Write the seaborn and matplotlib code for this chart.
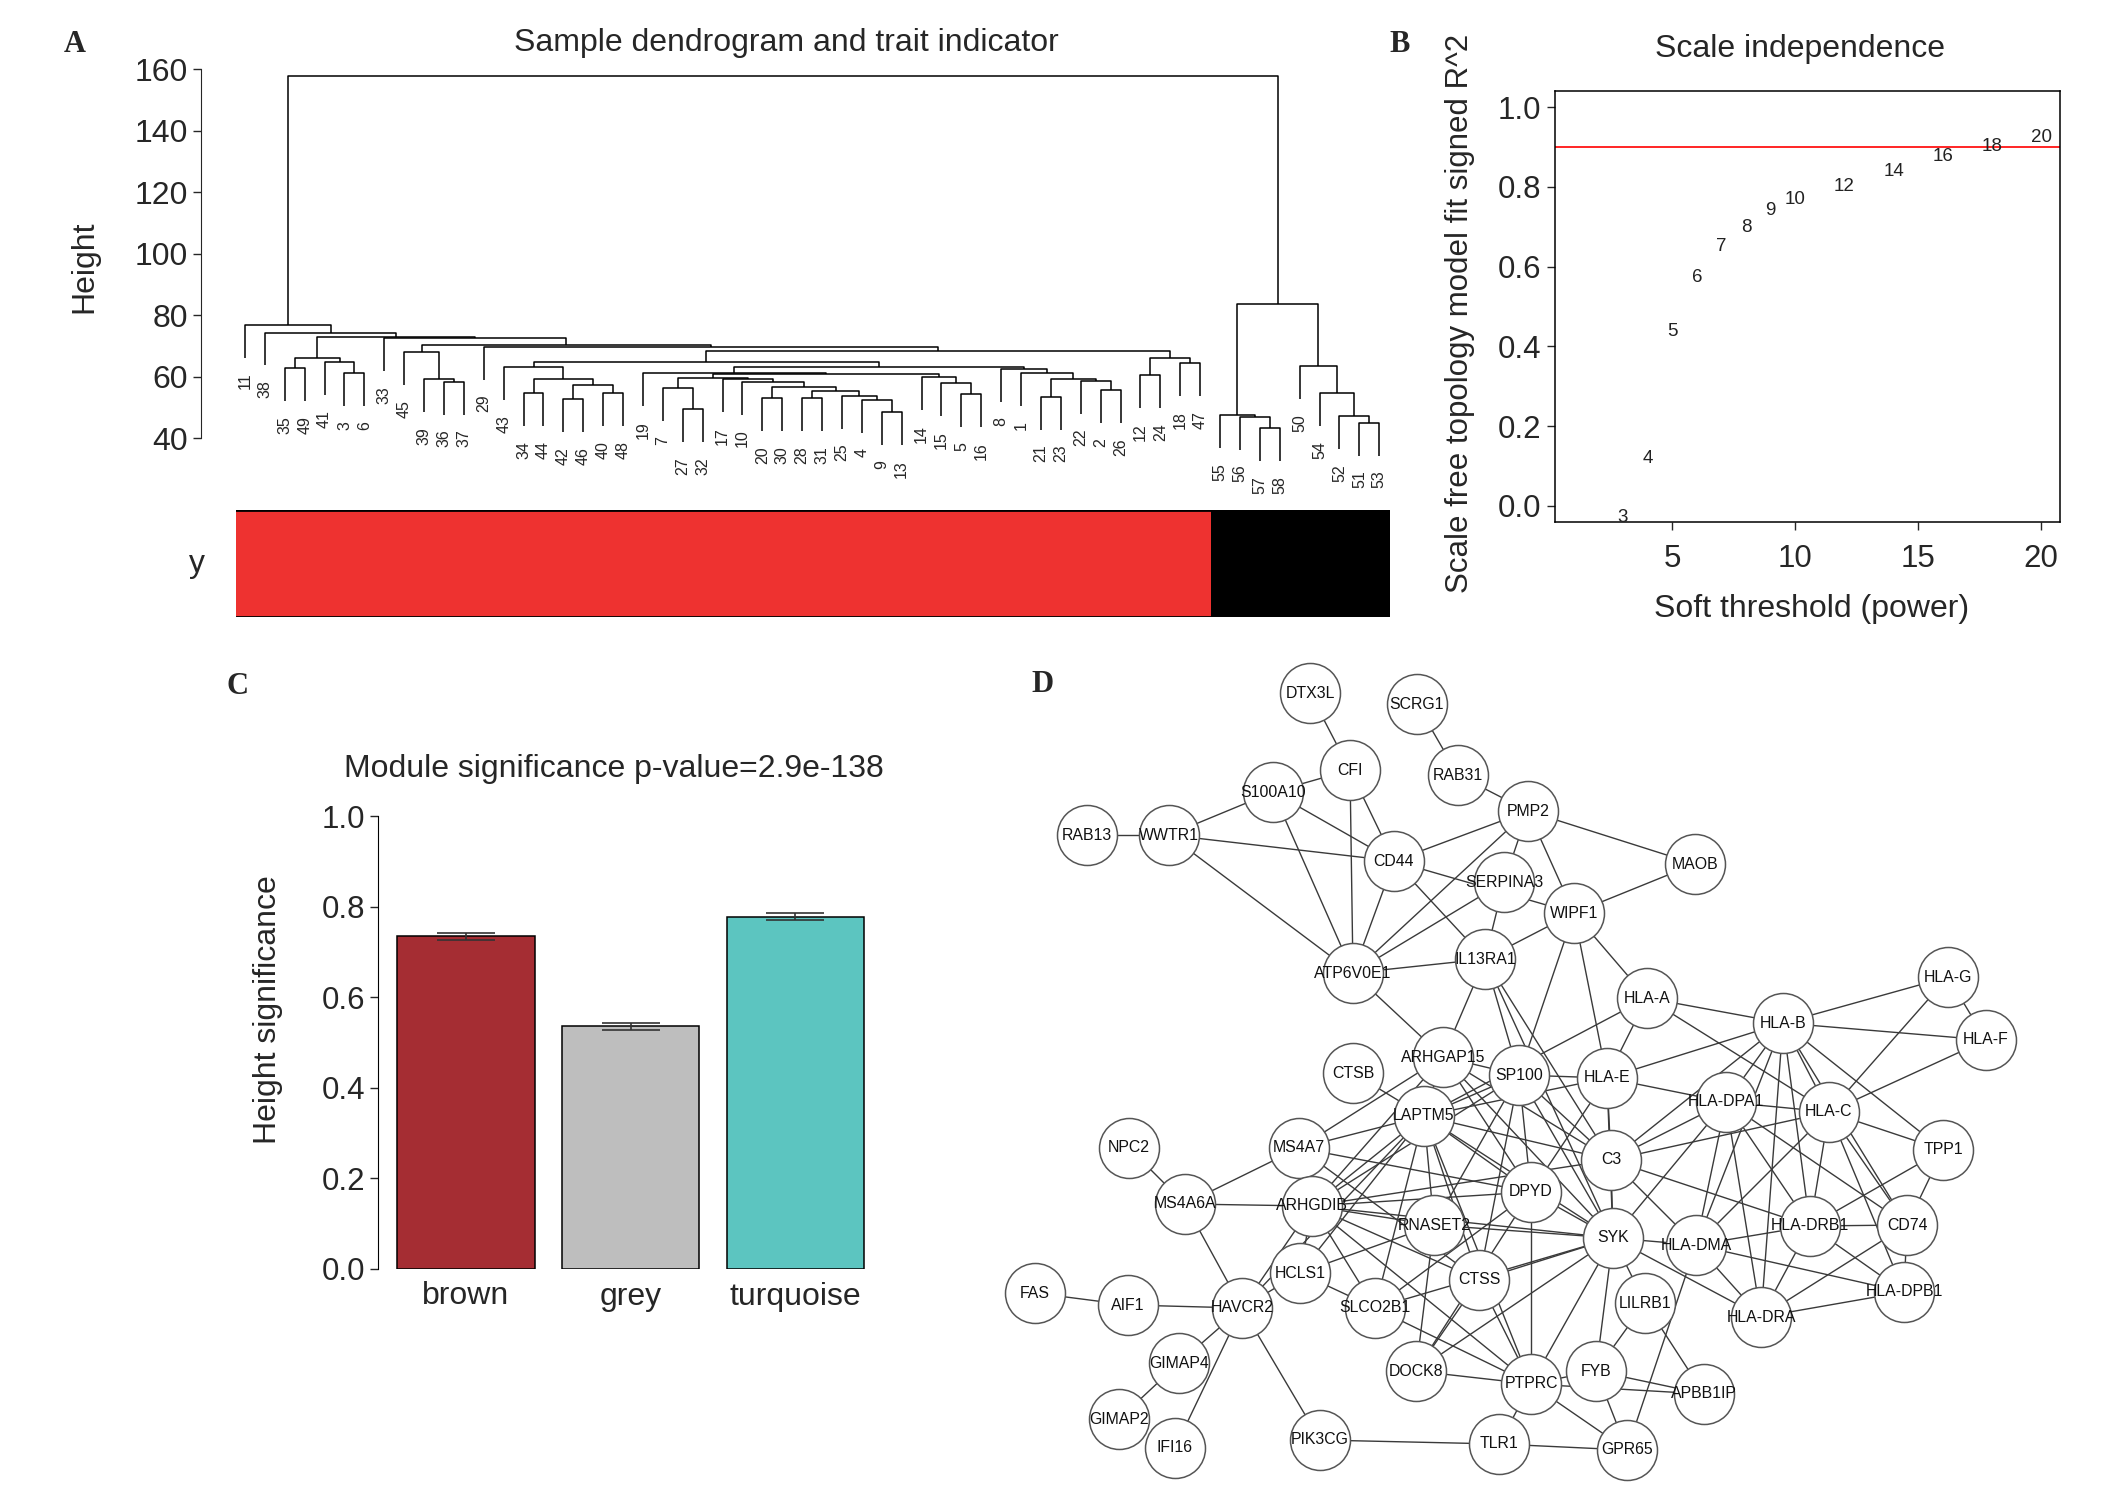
import matplotlib
matplotlib.use('Agg')
import matplotlib.pyplot as plt
from matplotlib.colors import ListedColormap
from matplotlib.collections import LineCollection
import seaborn as sns
import numpy as np
import pandas as pd

sns.set_style('white')
plt.rcParams['font.family'] = ['Liberation Sans', 'DejaVu Sans']

W, H = 2126, 1495
fig = plt.figure(figsize=(W / 100, H / 100), dpi=100)


def px_axes(x0, y0, x1, y1):
    # axes placed by pixel box (top-left origin)
    return fig.add_axes([x0 / W, 1 - y1 / H, (x1 - x0) / W, (y1 - y0) / H])


def px_text(x, y, s, **kw):
    fig.text(x / W, 1 - y / H, s, ha='center', va='center', **kw)


# ---------------- A: sample dendrogram (hclust style merge table) ----------------
# negative = sample id, positive = earlier merge row (1-based)
merge_a = [-57, -56, -55, -51, -52, -54, -50, 3,
           -35, -3, -41, 9, -36, -39, -45, -34, -42, -40, 17, 16, -43,
           -27, -7, -20, -28, -9, -4, -25, 25, 24, -10, -17, 23,
           -5, -15, -14, 33, -19, -21, -2, -22, 39, -1, -8, 38, 21,
           -12, -18, 47, 46, -29, 15, -33, 12, -38, -11, 56]
merge_b = [-58, 1, 2, -53, 4, 5, 6, 7,
           -49, -6, 10, 11, -37, 13, 14, -44, -46, -48, 18, 19, 20,
           -32, 22, -30, -31, -13, 26, 27, 28, 29, 30, 31, 32,
           -16, 34, 35, 36, 37, -23, -26, 40, 41, 42, 43, 44, 45,
           -24, -47, 48, 49, 50, 51, 52, 53, 54, 55, 8]
merge_h = [43.3, 46.9, 47.5, 45.0, 47.1, 54.7, 63.4, 83.6,
           62.7, 61.0, 64.8, 65.9, 58.3, 59.1, 67.9, 54.5, 52.6, 54.5, 57.2, 59.2, 63.0,
           49.3, 56.2, 53.0, 53.0, 48.5, 52.4, 53.7, 55.4, 56.7, 58.3, 59.1, 59.4,
           54.3, 57.8, 59.7, 60.7, 61.2, 53.4, 55.6, 58.6, 59.1, 61.0, 62.3, 63.2, 64.7,
           60.5, 64.3, 65.9, 68.4, 69.7, 70.3, 72.4, 73.0, 74.3, 76.8, 157.8]
# trait per sample id 1..58 (0 = red, 1 = black)
trait_y = [0, 0, 0, 0, 0, 0, 0, 0, 0, 0, 0, 0, 0, 0, 0, 0, 0, 0, 0, 0,
           0, 0, 0, 0, 0, 0, 0, 0, 0, 0, 0, 0, 0, 0, 0, 0, 0, 0, 0, 0,
           0, 0, 0, 0, 0, 0, 0, 0, 0, 1, 1, 1, 1, 1, 1, 1, 1, 1]
hang = 10.7


def leaves(node):
    if node < 0:
        return [-node]
    return leaves(merge_a[node - 1]) + leaves(merge_b[node - 1])


leaf_order = leaves(len(merge_h))
leaf_pos = {s: i for i, s in enumerate(leaf_order)}

ax_a = px_axes(200.7, 69.2, 1395, 438)
node_xy = {}
segs = []
for k in range(1, len(merge_h) + 1):
    h = merge_h[k - 1]
    ends = []
    for child in (merge_a[k - 1], merge_b[k - 1]):
        if child < 0:
            x = leaf_pos[-child]
            y = h - hang
            ax_a.text(x, y - 4.9, str(-child), rotation=90, ha='center', va='top',
                      fontsize=11.5, clip_on=False)
        else:
            x, y = node_xy[child]
        ends.append((x, y))
    (xa, ya), (xb, yb) = ends
    segs.append([(xa, ya), (xa, h), (xb, h), (xb, yb)])
    node_xy[k] = ((xa + xb) / 2, h)
ax_a.add_collection(LineCollection(segs, colors='black', linewidths=1.1, clip_on=False))
ax_a.set_xlim(-2.226, 57.79)
ax_a.set_ylim(40, 160)
ax_a.set_yticks([40, 60, 80, 100, 120, 140, 160])
ax_a.set_xticks([])
sns.despine(ax=ax_a, bottom=True)
ax_a.spines['left'].set_bounds(40, 160)
ax_a.tick_params(axis='y', direction='out', length=6, width=1, pad=3, labelsize=23, left=True)
ax_a.set_facecolor('none')

px_text(786, 43, 'Sample dendrogram and trait indicator', fontsize=23)
px_text(84, 267, 'Height', fontsize=23, rotation=90)

# trait colour bar in dendrogram order
ax_bar = px_axes(236, 510, 1390, 617)
bar_df = pd.DataFrame([[trait_y[s - 1] for s in leaf_order]], columns=leaf_order, index=['y'])
sns.heatmap(bar_df, ax=ax_bar, cmap=ListedColormap(['#EE3230', 'black']), cbar=False,
            xticklabels=False, yticklabels=False, vmin=0, vmax=1)
ax_bar.axhline(0, color='black', lw=2)
ax_bar.axhline(1, color='black', lw=2)
px_text(197, 564, 'y', fontsize=23)

# ---------------- B: scale independence ----------------
powers = [3, 4, 5, 6, 7, 8, 9, 10, 12, 14, 16, 18, 20]
fit_r2 = [-0.03, 0.118, 0.437, 0.573, 0.65, 0.698, 0.742, 0.769, 0.80, 0.838, 0.877, 0.902, 0.925]
cutoff = 0.90

ax_b = px_axes(1555, 91, 2060, 522)
for p, v in zip(powers, fit_r2):
    ax_b.text(p, v, str(p), ha='center', va='center', fontsize=13.5, color='#222222', clip_on=True)
ax_b.axhline(cutoff, color='red', lw=1.2)
ax_b.set_xlim(0.24, 20.76)
ax_b.set_ylim(-0.041, 1.041)
ax_b.set_xticks([5, 10, 15, 20])
ax_b.set_yticks([0, 0.2, 0.4, 0.6, 0.8, 1.0])
ax_b.set_yticklabels(['0.0', '0.2', '0.4', '0.6', '0.8', '1.0'])
for s in ax_b.spines.values():
    s.set_linewidth(1.1)
    s.set_color('black')
ax_b.tick_params(direction='out', length=6, width=1, labelsize=22.5, bottom=True, left=True)
ax_b.tick_params(axis='x', pad=10)
ax_b.tick_params(axis='y', pad=4)
px_text(1800, 49, 'Scale independence', fontsize=23)
px_text(1812, 609, 'Soft threshold (power)', fontsize=23)
px_text(1460, 313, 'Scale free topology model fit signed R^2', fontsize=22.5, rotation=90)

# ---------------- C: module significance ----------------
modules = ['brown', 'grey', 'turquoise']
gene_sig = [0.734, 0.536, 0.778]
gene_sig_err = [0.008, 0.008, 0.007]
module_colors = ['#A52D33', '#BEBEBE', '#5CC5C0']

ax_c = px_axes(378, 816, 870, 1269)
sns.barplot(x=modules, y=gene_sig, hue=modules, palette=module_colors, legend=False,
            saturation=1, width=0.835, edgecolor='black', linewidth=1.1, errorbar=None, ax=ax_c)
ax_c.errorbar(range(len(modules)), gene_sig, yerr=gene_sig_err, fmt='none',
              ecolor='#333333', elinewidth=1.2, capsize=21, capthick=1.2)
ax_c.set_xlim(-0.534, 2.453)
ax_c.set_ylim(0, 1)
ax_c.set_yticks([0, 0.2, 0.4, 0.6, 0.8, 1.0])
ax_c.set_yticklabels(['0.0', '0.2', '0.4', '0.6', '0.8', '1.0'])
sns.despine(ax=ax_c, bottom=True)
ax_c.spines['left'].set_bounds(0, 1)
ax_c.spines['left'].set_color('black')
ax_c.tick_params(axis='y', direction='out', length=6, width=1, pad=3, labelsize=22.5, left=True)
ax_c.tick_params(axis='x', length=0, pad=9, labelsize=23)
ax_c.set_ylabel('')
px_text(614, 769, 'Module significance p-value=2.9e-138', fontsize=23)
px_text(268, 1010, 'Height significance', fontsize=23, rotation=90)

# ---------------- D: PPI network of hub genes ----------------
node_names = ['DTX3L', 'SCRG1', 'CFI', 'RAB31', 'S100A10', 'PMP2', 'RAB13', 'WWTR1', 'CD44',
              'MAOB', 'SERPINA3', 'WIPF1', 'IL13RA1', 'ATP6V0E1', 'HLA-G', 'HLA-A', 'HLA-B',
              'HLA-F', 'ARHGAP15', 'CTSB', 'SP100', 'HLA-E', 'HLA-DPA1', 'HLA-C', 'LAPTM5',
              'NPC2', 'MS4A7', 'TPP1', 'C3', 'DPYD', 'MS4A6A', 'ARHGDIB', 'RNASET2', 'CD74',
              'HLA-DRB1', 'SYK', 'HLA-DMA', 'HCLS1', 'CTSS', 'HLA-DPB1', 'FAS', 'LILRB1',
              'AIF1', 'HAVCR2', 'SLCO2B1', 'HLA-DRA', 'GIMAP4', 'DOCK8', 'FYB', 'PTPRC',
              'APBB1IP', 'GIMAP2', 'PIK3CG', 'TLR1', 'IFI16', 'GPR65']
node_x = [1310, 1417, 1350, 1458, 1273, 1528, 1087, 1169, 1394,
          1695, 1504, 1574, 1485, 1353, 1948, 1647, 1783,
          1986, 1443, 1353, 1519, 1607, 1726, 1829, 1424,
          1129, 1299, 1943, 1611, 1531, 1185, 1312, 1434, 1907,
          1810, 1613, 1696, 1300, 1479, 1904, 1035, 1645,
          1128, 1242, 1375, 1761, 1179, 1416, 1596, 1531,
          1704, 1119, 1320, 1499, 1175, 1627]
node_y = [693, 704, 770, 775, 792, 811, 835, 835, 861,
          864, 882, 913, 959, 973, 977, 998, 1023,
          1040, 1057, 1073, 1075, 1078, 1102, 1112, 1116,
          1148, 1148, 1150, 1160, 1192, 1204, 1206, 1225, 1225,
          1226, 1238, 1245, 1273, 1280, 1292, 1293, 1303,
          1305, 1308, 1308, 1317, 1363, 1371, 1371, 1384,
          1394, 1419, 1440, 1444, 1448, 1450]
edges = [
    ('DTX3L', 'CFI'), ('SCRG1', 'RAB31'), ('RAB31', 'PMP2'), ('CFI', 'S100A10'), ('CFI', 'CD44'),
    ('CFI', 'ATP6V0E1'), ('S100A10', 'WWTR1'), ('S100A10', 'CD44'), ('S100A10', 'ATP6V0E1'),
    ('RAB13', 'WWTR1'), ('WWTR1', 'CD44'), ('WWTR1', 'ATP6V0E1'), ('CD44', 'PMP2'), ('CD44', 'WIPF1'),
    ('CD44', 'ATP6V0E1'), ('CD44', 'IL13RA1'), ('PMP2', 'MAOB'), ('PMP2', 'WIPF1'), ('PMP2', 'SERPINA3'),
    ('PMP2', 'ATP6V0E1'), ('SERPINA3', 'ATP6V0E1'), ('SERPINA3', 'IL13RA1'), ('WIPF1', 'MAOB'),
    ('WIPF1', 'IL13RA1'), ('WIPF1', 'HLA-A'), ('WIPF1', 'HLA-E'), ('WIPF1', 'SP100'),
    ('ATP6V0E1', 'IL13RA1'), ('ATP6V0E1', 'ARHGAP15'), ('IL13RA1', 'ARHGAP15'), ('IL13RA1', 'SP100'),
    ('IL13RA1', 'C3'), ('IL13RA1', 'SYK'),
    ('HLA-A', 'HLA-B'), ('HLA-A', 'HLA-E'), ('HLA-A', 'LAPTM5'), ('HLA-A', 'HLA-C'),
    ('HLA-B', 'HLA-G'), ('HLA-B', 'HLA-F'), ('HLA-B', 'HLA-E'), ('HLA-B', 'C3'), ('HLA-B', 'HLA-DPA1'),
    ('HLA-B', 'HLA-DMA'), ('HLA-B', 'HLA-DRB1'), ('HLA-B', 'HLA-DRA'), ('HLA-B', 'HLA-C'),
    ('HLA-B', 'TPP1'), ('HLA-B', 'CD74'),
    ('HLA-G', 'HLA-F'), ('HLA-G', 'HLA-C'), ('HLA-F', 'HLA-C'),
    ('HLA-E', 'C3'), ('HLA-E', 'SP100'), ('HLA-E', 'SYK'), ('HLA-E', 'LAPTM5'), ('HLA-E', 'DPYD'),
    ('HLA-E', 'HLA-DPA1'),
    ('HLA-DPA1', 'HLA-C'), ('HLA-DPA1', 'C3'), ('HLA-DPA1', 'SYK'), ('HLA-DPA1', 'HLA-DMA'),
    ('HLA-DPA1', 'HLA-DRA'), ('HLA-DPA1', 'HLA-DRB1'), ('HLA-DPA1', 'CD74'),
    ('HLA-C', 'C3'), ('HLA-C', 'HLA-DMA'), ('HLA-C', 'HLA-DRB1'), ('HLA-C', 'CD74'),
    ('HLA-C', 'HLA-DPB1'), ('HLA-C', 'TPP1'),
    ('TPP1', 'CD74'), ('TPP1', 'HLA-DRB1'),
    ('CD74', 'HLA-DRB1'), ('CD74', 'HLA-DPB1'), ('CD74', 'HLA-DRA'),
    ('HLA-DPB1', 'HLA-DRA'), ('HLA-DPB1', 'HLA-DRB1'), ('HLA-DPB1', 'HLA-DMA'),
    ('HLA-DRB1', 'HLA-DMA'), ('HLA-DRB1', 'C3'), ('HLA-DRB1', 'HLA-DRA'),
    ('HLA-DMA', 'SYK'), ('HLA-DMA', 'C3'), ('HLA-DMA', 'HLA-DRA'), ('HLA-DMA', 'GPR65'),
    ('SYK', 'C3'), ('SYK', 'LILRB1'), ('SYK', 'FYB'), ('SYK', 'PTPRC'), ('SYK', 'DPYD'),
    ('SYK', 'LAPTM5'), ('SYK', 'SP100'), ('SYK', 'ARHGAP15'), ('SYK', 'CTSS'), ('SYK', 'RNASET2'),
    ('SYK', 'ARHGDIB'), ('SYK', 'DOCK8'), ('SYK', 'HLA-DRA'), ('SYK', 'SLCO2B1'),
    ('LILRB1', 'FYB'), ('LILRB1', 'APBB1IP'),
    ('FYB', 'APBB1IP'), ('FYB', 'GPR65'), ('FYB', 'PTPRC'),
    ('PTPRC', 'GPR65'), ('PTPRC', 'TLR1'), ('PTPRC', 'DOCK8'), ('PTPRC', 'CTSS'),
    ('PTPRC', 'SLCO2B1'), ('PTPRC', 'ARHGDIB'), ('PTPRC', 'APBB1IP'), ('PTPRC', 'LAPTM5'),
    ('PTPRC', 'DPYD'),
    ('TLR1', 'PIK3CG'), ('TLR1', 'GPR65'),
    ('PIK3CG', 'HAVCR2'), ('HAVCR2', 'MS4A6A'), ('HAVCR2', 'AIF1'), ('HAVCR2', 'GIMAP4'),
    ('HAVCR2', 'IFI16'), ('HAVCR2', 'HCLS1'), ('HAVCR2', 'ARHGDIB'), ('HAVCR2', 'LAPTM5'),
    ('AIF1', 'FAS'), ('GIMAP4', 'GIMAP2'), ('NPC2', 'MS4A6A'), ('MS4A6A', 'MS4A7'),
    ('MS4A6A', 'ARHGDIB'),
    ('MS4A7', 'LAPTM5'), ('MS4A7', 'ARHGAP15'), ('MS4A7', 'DPYD'), ('MS4A7', 'CTSS'),
    ('ARHGDIB', 'LAPTM5'), ('ARHGDIB', 'SP100'), ('ARHGDIB', 'DPYD'), ('ARHGDIB', 'RNASET2'),
    ('ARHGDIB', 'HCLS1'), ('ARHGDIB', 'SLCO2B1'), ('ARHGDIB', 'CTSS'), ('ARHGDIB', 'ARHGAP15'),
    ('ARHGDIB', 'C3'),
    ('HCLS1', 'RNASET2'), ('HCLS1', 'SLCO2B1'), ('HCLS1', 'LAPTM5'),
    ('SLCO2B1', 'LAPTM5'), ('SLCO2B1', 'DPYD'),
    ('DOCK8', 'DPYD'), ('DOCK8', 'CTSS'), ('DOCK8', 'RNASET2'),
    ('CTSS', 'LAPTM5'), ('CTSS', 'SP100'),
    ('RNASET2', 'LAPTM5'), ('RNASET2', 'SP100'),
    ('DPYD', 'LAPTM5'), ('DPYD', 'SP100'),
    ('LAPTM5', 'SP100'), ('LAPTM5', 'ARHGAP15'), ('LAPTM5', 'CTSB'), ('LAPTM5', 'C3'),
    ('ARHGAP15', 'SP100'), ('ARHGAP15', 'DPYD'), ('ARHGAP15', 'C3'),
    ('SP100', 'C3'),
]

nodes = pd.DataFrame({'gene': node_names, 'x': node_x, 'y': node_y}).set_index('gene')
ax_d = px_axes(1000, 660, 2110, 1495)
edge_segs = [[(nodes.loc[a, 'x'], nodes.loc[a, 'y']), (nodes.loc[b, 'x'], nodes.loc[b, 'y'])]
             for a, b in edges]
ax_d.add_collection(LineCollection(edge_segs, colors='#3a3a3a', linewidths=1.0, zorder=1))
sns.scatterplot(data=nodes, x='x', y='y', s=1866, color='white', edgecolor='#555555',
                linewidth=1.1, zorder=2, ax=ax_d, legend=False)
for g, row in nodes.iterrows():
    ax_d.text(row['x'], row['y'], g, ha='center', va='center', fontsize=11.4,
              color='#111111', zorder=3)
ax_d.set_xlim(1000, 2110)
ax_d.set_ylim(1495, 660)
ax_d.axis('off')

# panel letters
for letter, lx, ly in [('A', 75, 45), ('B', 1400, 45), ('C', 237, 686), ('D', 1043, 685)]:
    px_text(lx, ly, letter, fontsize=22, fontweight='bold', family='Liberation Serif')

plt.savefig('out.png', dpi=100)
